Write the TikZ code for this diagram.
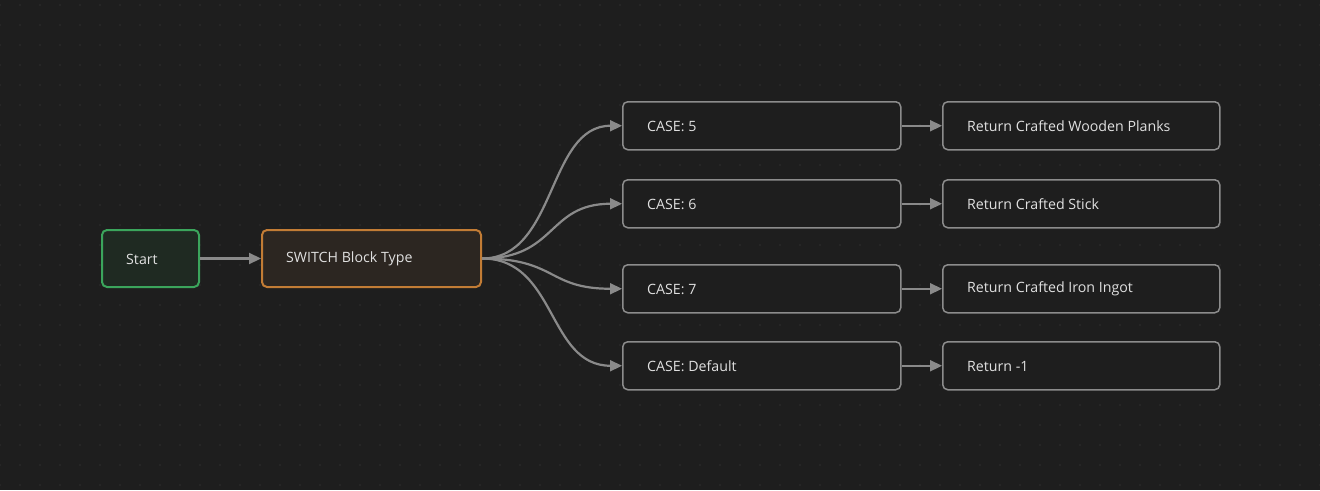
\documentclass[tikz,border=0pt]{standalone}
\usepackage{fontspec}
\setmainfont{Open Sans}
\usetikzlibrary{arrows.meta}
\definecolor{bg}{HTML}{1E1E1E}
\definecolor{dotc}{HTML}{2F2F2F}
\definecolor{txt}{HTML}{E0E0E0}
\definecolor{edge}{HTML}{8A8A8A}
\definecolor{grayb}{HTML}{8C8C8C}
\definecolor{greenb}{HTML}{3BA55C}
\definecolor{greenf}{HTML}{1F2A22}
\definecolor{orangeb}{HTML}{C27C35}
\definecolor{orangef}{HTML}{2C2621}
\begin{document}
\begin{tikzpicture}[x=1pt,y=-1pt,
  box/.style={draw=grayb,fill=bg,line width=1.5pt,rounded corners=5pt,anchor=north west,
    text=txt,align=left,text width=#1,inner xsep=0pt,inner ysep=0pt},
  lbl/.style={anchor=west,text=txt,font=\fontsize{14.2}{17}\selectfont,inner sep=0pt},
  flow/.style={draw=edge,line width=2.2pt,-{Triangle[length=12pt,width=11pt]}}]
\useasboundingbox[fill=bg] (0,0) rectangle (1320,490);
\foreach \i in {0,...,66}{\foreach \j in {0,...,24}{
  \fill[dotc] (\i*20,5+\j*20) circle (0.9pt);}}
% nodes
\node[box=97pt,draw=greenb,fill=greenf,line width=2pt,minimum height=57pt] (start) at (101,229) {};
\node[lbl] (startt) at (126,259) {Start};
\node[box=219pt,draw=orangeb,fill=orangef,line width=2pt,minimum height=57pt] (sw) at (261,229) {};
\node[lbl] (swt) at (286,259) {SWITCH Block Type};
\foreach \n/\y/\a/\b in {c5/101/CASE: 5/Return Crafted Wooden Planks,
                          c6/179/CASE: 6/Return Crafted Stick,
                          c7/264/CASE: 7/Return Crafted Iron Ingot,
                          cd/341/CASE: Default/Return -1}{
  \node[box=278pt,minimum height=48pt] (\n) at (622,\y) {};
  \node[lbl] (\n t) at (647,\y+25) {\a};
  \node[box=277pt,minimum height=48pt] (\n r) at (942,\y) {};
  \node[lbl] (\n rt) at (967,\y+25) {\b};
  \draw[flow] (\n.east) -- (\n r.west);
  \draw[flow] (sw.east) .. controls +(75,0) and +(-75,0) .. (\n.west);
}
\draw[flow] (start.east) -- (sw.west);
\end{tikzpicture}
\end{document}
